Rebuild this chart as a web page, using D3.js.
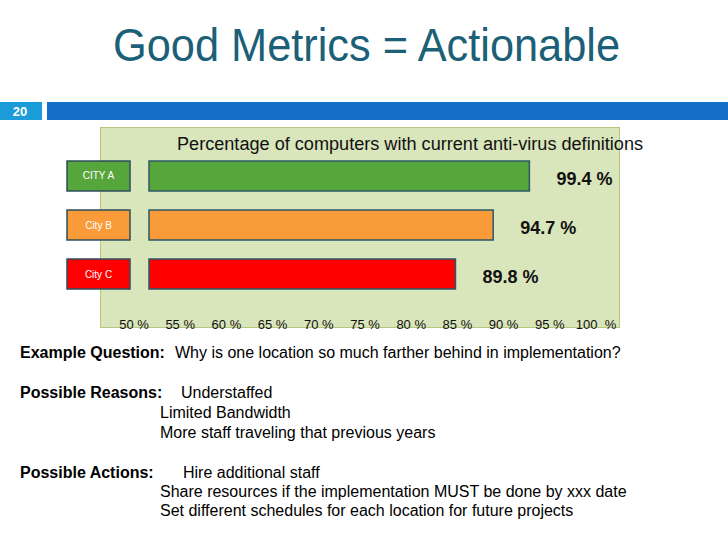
<!DOCTYPE html>
<meta charset="utf-8">
<style>
body{margin:0;background:#fff;}
text{font-family:"Liberation Sans",Arial,sans-serif;}
.title{font-size:46px;fill:#1b6077;}
.box text{fill:#fff;font-size:10px;text-anchor:middle;}
.val{font-size:18px;font-weight:bold;fill:#111;}
.tick{font-size:13px;fill:#111;text-anchor:middle;white-space:pre;}
.body{font-size:16px;fill:#000;}
.lbl{font-weight:bold;}
</style>
<html>
<body>
<script src="https://d3js.org/d3.v7.min.js"></script>
<script>

var cities=["CITY A","City B","City C"];
var values=[99.4,94.7,89.8];
var colors=["#57a63c","#f99b38","#ff0000"];
var ticks=[50,55,60,65,70,75,80,85,90,95,100];
var tickLabels=["50 %","55 %","60 %","65 %","70 %","75 %","80 %","85 %","90 %","95 %","100  %"];

var heads=["Example Question:","Possible Reasons:","","","Possible Actions:","",""];
var lines=["Why is one location so much farther behind in implementation?",
	"Understaffed","Limited Bandwidth","More staff traveling that previous years",
	"Hire additional staff","Share resources if the implementation MUST be done by xxx date",
	"Set different schedules for each location for future projects"];

var svg=d3.select("body").append("svg").attr("width",728).attr("height",546);

// header
svg.append("text").attr("class","title").attr("x",113).attr("y",61)
	.attr("textLength",507).attr("lengthAdjust","spacingAndGlyphs")
	.text("Good Metrics = Actionable");
svg.append("rect").attr("x",0).attr("y",102).attr("width",42).attr("height",18).attr("fill","#1b9cd8");
svg.append("rect").attr("x",47).attr("y",102).attr("width",681).attr("height",18).attr("fill","#1370c6");
svg.append("text").attr("x",20).attr("y",116).attr("text-anchor","middle")
	.style("font-size","13px").style("font-weight","bold").attr("fill","#fff").text("20");

// chart area
svg.append("rect").attr("x",100.5).attr("y",127.5).attr("width",519).attr("height",200)
	.attr("fill","#d9e5bb").attr("stroke","#b3c77f");
svg.append("text").attr("x",177).attr("y",150).style("font-size","18px").attr("fill","#111")
	.attr("textLength",466).attr("lengthAdjust","spacingAndGlyphs")
	.text("Percentage of computers with current anti-virus definitions");

var x=d3.scaleLinear().domain([50,100]).range([149,534]);
var ax=d3.scaleLinear().domain([50,100]).range([134,596]);
var y=d3.scaleBand().domain(cities).range([161,289]).paddingInner(0.388);

var box=svg.append("g").attr("class","box").selectAll("g").data(cities).join("g");
box.append("rect").attr("x",67).attr("y",d=>y(d)).attr("width",63).attr("height",y.bandwidth())
	.attr("fill",(d,i)=>colors[i]).attr("stroke","#2e4d5e").attr("stroke-width",1.5);
box.append("text").attr("x",98.5).attr("y",d=>y(d)+y.bandwidth()/2+3.5).text(d=>d);

svg.selectAll(".bar").data(values).join("rect").attr("class","bar")
	.attr("x",x(50)).attr("y",(d,i)=>y(cities[i]))
	.attr("width",d=>x(d)-x(50)).attr("height",y.bandwidth())
	.attr("fill",(d,i)=>colors[i]).attr("stroke","#2b5869").attr("stroke-width",1.5);

svg.selectAll(".val").data(values).join("text").attr("class","val")
	.attr("x",d=>x(d)+27).attr("y",(d,i)=>y(cities[i])+y.bandwidth()/2+9)
	.text(d=>d3.format(".1f")(d)+" %");

svg.selectAll(".tick").data(ticks).join("text").attr("class","tick")
	.attr("x",d=>ax(d)).attr("y",329).text((d,i)=>tickLabels[i]);

// notes below
var rowY=[358,398,418,438,478,497,516];
var gapX=[175,181,0,0,183];
svg.selectAll(".body").data(lines).join("text").attr("class","body")
	.attr("y",(d,i)=>rowY[i])
	.each(function(d,i){
		var t=d3.select(this);
		if(heads[i]){
			t.attr("x",20);
			t.append("tspan").attr("class","lbl").text(heads[i]);
			t.append("tspan").attr("x",gapX[i]).text(d);
		}else{
			t.attr("x",160).text(d);
		}
	});

</script>
</body>
</html>
